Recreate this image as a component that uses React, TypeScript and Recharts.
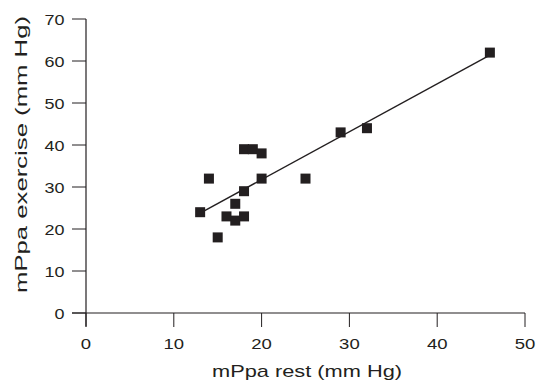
import React from 'react';
import { ScatterChart, Scatter, XAxis, YAxis, ReferenceLine } from 'recharts';

const restValues = [13, 14, 15, 16, 17, 17, 18, 18, 18, 19, 20, 20, 25, 29, 32, 46];
const exerciseValues = [24, 32, 18, 23, 22, 26, 23, 29, 39, 39, 38, 32, 32, 43, 44, 62];
const xTicks = [0, 10, 20, 30, 40, 50];
const yTicks = [0, 10, 20, 30, 40, 50, 60, 70];
const fitRest = [13, 46];
const fitExercise = [23.8, 61.4];
const xTitle = 'mPpa rest (mm Hg)';
const yTitle = 'mPpa exercise (mm Hg)';

const points = restValues.map((x, i) => ({ x, y: exerciseValues[i] }));
const fitLine = fitRest.map((x, i) => ({ x, y: fitExercise[i] }));

const INK = '#231f20';
const FONT = '"Liberation Sans", Arial, Helvetica, sans-serif';

const XTick = (props: any) => {
  const { x, y, payload } = props;
  const s = String(payload.value);
  return (
    <text x={x} y={y} dy={20} textAnchor="middle" fontFamily={FONT} fontSize={15.5} fill={INK}
      textLength={s.length * 10.3} lengthAdjust="spacingAndGlyphs">{s}</text>
  );
};

const YTick = (props: any) => {
  const { x, y, payload } = props;
  const s = String(payload.value);
  return (
    <text x={x - 5.5} y={y} dy={5.5} textAnchor="end" fontFamily={FONT} fontSize={15} fill={INK}
      textLength={s.length * 10} lengthAdjust="spacingAndGlyphs">{s}</text>
  );
};

const XTitle = (props: any) => {
  const vb = props.viewBox || { x: 86, y: 313, width: 439, height: 67 };
  const cx = vb.x + vb.width / 2 + 1.5;
  const by = vb.y + 63.5;
  return (
    <text x={cx} y={by} textAnchor="middle" fontFamily={FONT} fontSize={17} fill={INK}
      textLength={190} lengthAdjust="spacingAndGlyphs">{xTitle}</text>
  );
};

const YTitle = (props: any) => {
  const vb = props.viewBox || { x: 0, y: 19, width: 86, height: 294 };
  const cx = vb.x + 26.7;
  const cy = vb.y + vb.height / 2 - 11.5;
  return (
    <text x={cx} y={cy} textAnchor="middle" fontFamily={FONT} fontSize={16.3} fill={INK}
      transform={`rotate(-90, ${cx}, ${cy})`}
      textLength={277} lengthAdjust="spacingAndGlyphs">{yTitle}</text>
  );
};

const SquareDot = (props: any) => {
  const { cx, cy } = props;
  if (cx == null || cy == null) return <g />;
  return <rect x={cx - 5} y={cy - 5} width={10} height={10} fill={INK} />;
};

const NoDot = () => <g />;

export default function App() {
  return (
    <div style={{ position: 'absolute', left: 0, top: 0, background: '#fff' }}>
      <ScatterChart width={538} height={380} margin={{ top: 19, right: 13, left: 0, bottom: 0 }}>
        <XAxis
          type="number"
          dataKey="x"
          domain={[0, 50]}
          ticks={xTicks}
          allowDataOverflow
          axisLine={false}
          tickLine={{ stroke: INK, strokeWidth: 1 }}
          tickSize={14}
          height={67}
          tick={<XTick />}
          label={{ content: (p: any) => <XTitle {...p} /> }}
        />
        <YAxis
          type="number"
          dataKey="y"
          domain={[0, 70]}
          ticks={yTicks}
          allowDataOverflow
          axisLine={false}
          tickLine={{ stroke: INK, strokeWidth: 1 }}
          tickSize={14}
          width={86}
          tick={<YTick />}
          label={{ content: (p: any) => <YTitle {...p} /> }}
        />
        <ReferenceLine
          segment={[{ x: -1.6, y: 0 }, { x: 50, y: 0 }]}
          stroke={INK}
          strokeWidth={1.2}
          ifOverflow="visible"
        />
        <ReferenceLine
          segment={[{ x: 0, y: -3.2 }, { x: 0, y: 70 }]}
          stroke={INK}
          strokeWidth={1.2}
          ifOverflow="visible"
        />
        <Scatter
          data={fitLine}
          line={{ stroke: INK, strokeWidth: 1.4 }}
          shape={NoDot}
          isAnimationActive={false}
        />
        <Scatter data={points} shape={SquareDot} isAnimationActive={false} />
      </ScatterChart>
    </div>
  );
}
